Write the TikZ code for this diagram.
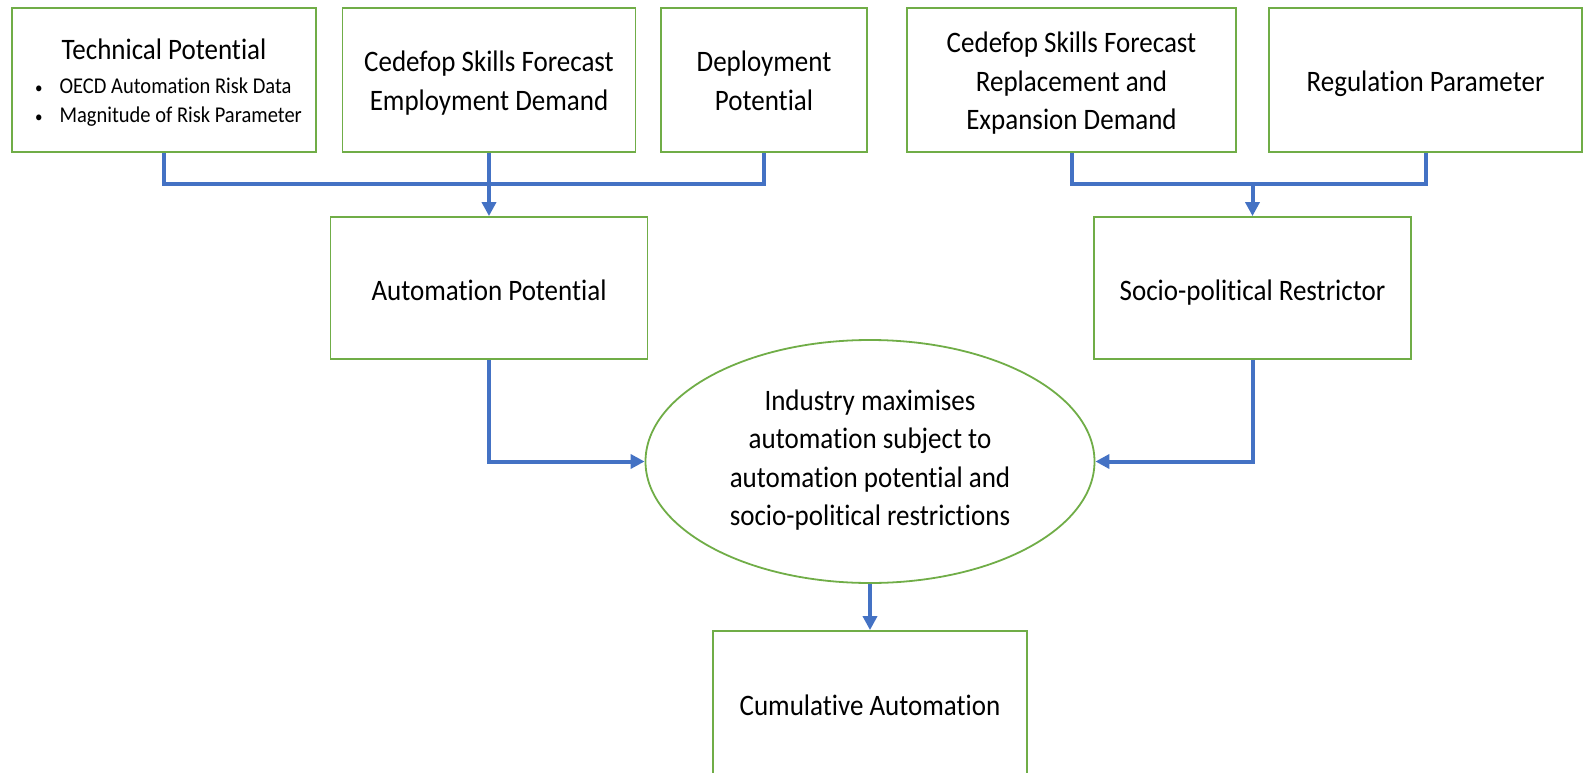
\documentclass[tikz,border=0pt]{standalone}
\usepackage{fontspec}
\usepackage{graphicx}
\setmainfont{Carlito}[Ligatures={NoCommon}]
\usetikzlibrary{arrows.meta,shapes.geometric}
\definecolor{boxgreen}{HTML}{70AD47}
\definecolor{linkblue}{HTML}{4472C4}
% text lines set slightly taller than wide, dropped a little below centre
\newcommand{\tallstack}[2][3.5pt]{\raisebox{-#1}[\height][\depth]{\scalebox{1}[1.1]{\begin{tabular}{@{}c@{}}#2\end{tabular}}}}
\begin{document}
\begin{tikzpicture}[x=1pt,y=-1pt,
  box/.style={draw=boxgreen, line width=1.8pt, fill=white, inner sep=0pt,
    align=center, font=\fontsize{27}{35}\selectfont},
  oval/.style={box, ellipse},
  link/.style={draw=linkblue, line width=4pt},
  arrow/.style={link, -{Triangle[length=14pt,width=14pt]}}]
  \useasboundingbox (0,0) rectangle (1584,773);
  \clip (0,0) rectangle (1584,773);

  % input boxes
  \node[box, minimum width=304, minimum height=144] (b1) at (164,80)
    {\tallstack[2pt]{Technical Potential\\[1pt]
     {\fontsize{20.5}{26.5}\selectfont\hspace*{9pt}%
      \begin{tabular}{@{}l@{\hspace{17pt}}l@{}}
        {\fontsize{15}{15}\selectfont\textbullet} & OECD Automation Risk Data\\
        {\fontsize{15}{15}\selectfont\textbullet} & Magnitude of Risk Parameter
      \end{tabular}}}};
  \node[box, minimum width=293, minimum height=144] (b2) at (489,80)
    {\tallstack{Cedefop Skills Forecast\\Employment Demand}};
  \node[box, minimum width=206, minimum height=144] (b3) at (764,80)
    {\tallstack{Deployment\\Potential}};
  \node[box, minimum width=329, minimum height=144] (b4) at (1071.5,80)
    {\tallstack{Cedefop Skills Forecast\\Replacement and\\Expansion Demand}};
  \node[box, minimum width=313, minimum height=144] (b5) at (1425.5,80)
    {\tallstack{Regulation Parameter}};

  % intermediate boxes
  \node[box, minimum width=317, minimum height=142] (ap) at (489,288)
    {\tallstack[4.5pt]{Automation Potential}};
  \node[box, minimum width=317, minimum height=142] (sp) at (1252.5,288)
    {\tallstack[4.5pt]{Socio-political Restrictor}};

  % decision oval
  \node[oval, minimum width=449, minimum height=243] (ind) at (870,461.5)
    {\tallstack[-1pt]{Industry maximises\\automation subject to\\automation potential and\\socio-political restrictions}};

  % result box
  \node[box, minimum width=314, minimum height=146] (cum) at (870,704)
    {\tallstack{Cumulative Automation}};

  % collecting buses
  \coordinate (busL) at (0,184);
  \coordinate (busR) at (0,184);
  \draw[link] (b1.south) -- (b1.south |- busL) -| (b3.south);
  \draw[arrow] (b2.south) -- (ap.north);
  \draw[link] (b4.south) -- (b4.south |- busR) -| (b5.south);
  \draw[arrow] (sp.north |- busR) -- (sp.north);

  % into and out of the oval
  \draw[arrow] (ap.south) |- (ind.west);
  \draw[arrow] (sp.south) |- (ind.east);
  \draw[arrow] (ind.south) -- (cum.north);
\end{tikzpicture}
\end{document}
